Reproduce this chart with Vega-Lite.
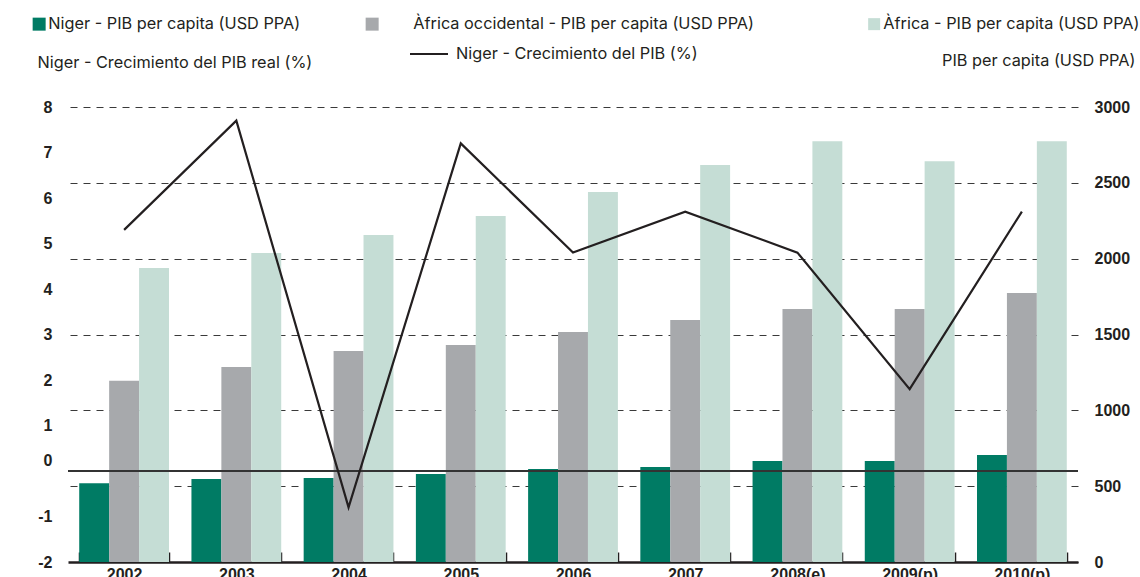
{
  "$schema": "https://vega.github.io/schema/vega-lite/v6.json",
  "width": 1010,
  "height": 455,
  "autosize": {"type": "none"},
  "padding": {"left": 68, "top": 107, "right": 62, "bottom": 15},
  "background": "white",
  "config": {
    "view": {"stroke": null},
    "font": "Liberation Sans",
    "axis": {"labelColor": "#231f20", "titleColor": "#231f20"},
    "legend": {"labelColor": "#231f20", "labelFont": "Inter", "labelFontSize": 16.3, "labelLimit": 500, "title": null}
  },
  "datasets": {
    "pib": [
      {"year": "2002", "series": "Niger - PIB per capita (USD PPA)", "value": 520},
      {"year": "2002", "series": "Àfrica occidental - PIB per capita (USD PPA)", "value": 1195},
      {"year": "2002", "series": "Àfrica - PIB per capita (USD PPA)", "value": 1938},
      {"year": "2003", "series": "Niger - PIB per capita (USD PPA)", "value": 547},
      {"year": "2003", "series": "Àfrica occidental - PIB per capita (USD PPA)", "value": 1285},
      {"year": "2003", "series": "Àfrica - PIB per capita (USD PPA)", "value": 2037},
      {"year": "2004", "series": "Niger - PIB per capita (USD PPA)", "value": 554},
      {"year": "2004", "series": "Àfrica occidental - PIB per capita (USD PPA)", "value": 1391},
      {"year": "2004", "series": "Àfrica - PIB per capita (USD PPA)", "value": 2156},
      {"year": "2005", "series": "Niger - PIB per capita (USD PPA)", "value": 580},
      {"year": "2005", "series": "Àfrica occidental - PIB per capita (USD PPA)", "value": 1431},
      {"year": "2005", "series": "Àfrica - PIB per capita (USD PPA)", "value": 2281},
      {"year": "2006", "series": "Niger - PIB per capita (USD PPA)", "value": 613},
      {"year": "2006", "series": "Àfrica occidental - PIB per capita (USD PPA)", "value": 1516},
      {"year": "2006", "series": "Àfrica - PIB per capita (USD PPA)", "value": 2439},
      {"year": "2007", "series": "Niger - PIB per capita (USD PPA)", "value": 626},
      {"year": "2007", "series": "Àfrica occidental - PIB per capita (USD PPA)", "value": 1595},
      {"year": "2007", "series": "Àfrica - PIB per capita (USD PPA)", "value": 2617},
      {"year": "2008(e)", "series": "Niger - PIB per capita (USD PPA)", "value": 666},
      {"year": "2008(e)", "series": "Àfrica occidental - PIB per capita (USD PPA)", "value": 1668},
      {"year": "2008(e)", "series": "Àfrica - PIB per capita (USD PPA)", "value": 2775},
      {"year": "2009(p)", "series": "Niger - PIB per capita (USD PPA)", "value": 666},
      {"year": "2009(p)", "series": "Àfrica occidental - PIB per capita (USD PPA)", "value": 1668},
      {"year": "2009(p)", "series": "Àfrica - PIB per capita (USD PPA)", "value": 2643},
      {"year": "2010(p)", "series": "Niger - PIB per capita (USD PPA)", "value": 705},
      {"year": "2010(p)", "series": "Àfrica occidental - PIB per capita (USD PPA)", "value": 1773},
      {"year": "2010(p)", "series": "Àfrica - PIB per capita (USD PPA)", "value": 2775}
    ],
    "growth": [
      {"year": "2002", "series": "Niger - Crecimiento del PIB (%)", "growth": 5.3},
      {"year": "2003", "series": "Niger - Crecimiento del PIB (%)", "growth": 7.7},
      {"year": "2004", "series": "Niger - Crecimiento del PIB (%)", "growth": -0.8},
      {"year": "2005", "series": "Niger - Crecimiento del PIB (%)", "growth": 7.2},
      {"year": "2006", "series": "Niger - Crecimiento del PIB (%)", "growth": 4.8},
      {"year": "2007", "series": "Niger - Crecimiento del PIB (%)", "growth": 5.7},
      {"year": "2008(e)", "series": "Niger - Crecimiento del PIB (%)", "growth": 4.8},
      {"year": "2009(p)", "series": "Niger - Crecimiento del PIB (%)", "growth": 1.8},
      {"year": "2010(p)", "series": "Niger - Crecimiento del PIB (%)", "growth": 5.7}
    ]
  },
  "layer": [
    {
      "data": {"name": "pib"},
      "encoding": {
        "x": {
          "field": "year",
          "type": "nominal",
          "sort": ["2002", "2003", "2004", "2005", "2006", "2007", "2008(e)", "2009(p)", "2010(p)"],
          "scale": {"paddingInner": 0.2, "paddingOuter": 0.1},
          "axis": {
            "title": null,
            "labelAngle": 0,
            "labelFontWeight": "bold",
            "labelFontSize": 16,
            "labelPadding": 14,
            "domain": true,
            "domainColor": "#231f20",
            "domainWidth": 2.5,
            "ticks": true,
            "tickBand": "extent",
            "tickSize": -10,
            "tickWidth": 1.5,
            "tickColor": "#231f20",
            "grid": false
          }
        },
        "xOffset": {
          "field": "series",
          "sort": ["Niger - PIB per capita (USD PPA)", "Àfrica occidental - PIB per capita (USD PPA)", "Àfrica - PIB per capita (USD PPA)"],
          "scale": {
            "domain": ["Niger - PIB per capita (USD PPA)", "Àfrica occidental - PIB per capita (USD PPA)", "Àfrica - PIB per capita (USD PPA)"],
            "paddingInner": 0, "paddingOuter": 0
          }
        },
        "y": {
          "field": "value",
          "type": "quantitative",
          "scale": {"domain": [0, 3000], "nice": false},
          "axis": {
            "orient": "right",
            "values": [0, 500, 1000, 1500, 2000, 2500, 3000],
            "format": "d",
            "domain": false,
            "ticks": false,
            "grid": true,
            "gridDash": [7, 6],
            "gridColor": "#3a3a3a",
            "gridWidth": 1,
            "labelFontWeight": "bold",
            "labelFontSize": 16,
            "labelPadding": 16,
            "title": "PIB per capita  (USD PPA)",
            "titleFont": "Inter",
            "titleAngle": 0,
            "titleAlign": "right",
            "titleBaseline": "middle",
            "titleFontWeight": "normal",
            "titleFontSize": 16.3,
            "titleX": 57,
            "titleY": -47
          }
        }
      },
      "layer": [
        {
          "transform": [{"filter": "datum.series === 'Niger - PIB per capita (USD PPA)'"}],
          "mark": {"type": "bar"},
          "encoding": {
            "fill": {
              "field": "series",
              "type": "nominal",
              "scale": {
                "domain": ["Niger - PIB per capita (USD PPA)", "Àfrica occidental - PIB per capita (USD PPA)", "Àfrica - PIB per capita (USD PPA)"],
                "range": ["#007b64", "#a7a9ac", "#c5ddd5"]
              },
              "legend": {
                "orient": "none",
                "values": ["Niger - PIB per capita (USD PPA)"],
                "legendX": -37,
                "legendY": -91,
                "symbolType": "square",
                "symbolSize": 169,
                "symbolStrokeWidth": 0,
                "labelOffset": 1
              }
            }
          }
        },
        {
          "transform": [{"filter": "datum.series === 'Àfrica occidental - PIB per capita (USD PPA)'"}],
          "mark": {"type": "bar"},
          "encoding": {
            "fill": {
              "field": "series",
              "type": "nominal",
              "legend": {
                "orient": "none",
                "values": ["Àfrica occidental - PIB per capita (USD PPA)"],
                "legendX": 296,
                "legendY": -91,
                "symbolType": "square",
                "symbolSize": 169,
                "symbolStrokeWidth": 0,
                "labelOffset": 33
              }
            }
          }
        },
        {
          "transform": [{"filter": "datum.series === 'Àfrica - PIB per capita (USD PPA)'"}],
          "mark": {"type": "bar"},
          "encoding": {
            "fill": {
              "field": "series",
              "type": "nominal",
              "legend": {
                "orient": "none",
                "values": ["Àfrica - PIB per capita (USD PPA)"],
                "legendX": 798,
                "legendY": -91,
                "symbolType": "square",
                "symbolSize": 144,
                "symbolStrokeWidth": 0,
                "labelOffset": 1
              }
            }
          }
        }
      ],
      "resolve": {"legend": {"fill": "independent"}}
    },
    {
      "data": {"name": "growth"},
      "layer": [
        {
          "mark": {"type": "rule", "color": "#333333", "strokeWidth": 2},
          "encoding": {"y": {"datum": 0, "type": "quantitative"}}
        },
        {
          "mark": {"type": "line", "strokeWidth": 2.2},
          "encoding": {
            "x": {
              "field": "year",
              "type": "nominal",
              "sort": ["2002", "2003", "2004", "2005", "2006", "2007", "2008(e)", "2009(p)", "2010(p)"]
            },
            "y": {
              "field": "growth",
              "type": "quantitative",
              "scale": {"domain": [-2, 8], "nice": false, "zero": false},
              "axis": {
                "orient": "left",
                "values": [-2, -1, 0, 1, 2, 3, 4, 5, 6, 7, 8],
                "labelExpr": "datum.value < 0 ? '-' + abs(datum.value) : '' + datum.value",
                "domain": false,
                "ticks": false,
                "grid": false,
                "labelFontWeight": "bold",
                "labelFontSize": 16,
                "labelPadding": 16,
                "labelOffset": {"condition": {"test": "datum.value === 0", "value": -11}, "value": 0},
                "title": "Niger - Crecimiento del PIB real (%)",
                "titleFont": "Inter",
                "titleAngle": 0,
                "titleAlign": "left",
                "titleBaseline": "middle",
                "titleFontWeight": "normal",
                "titleFontSize": 16.3,
                "titleX": -31,
                "titleY": -45
              }
            },
            "stroke": {
              "field": "series",
              "type": "nominal",
              "scale": {"range": ["#231f20"]},
              "legend": {
                "orient": "none",
                "legendX": 341,
                "legendY": -73,
                "symbolType": "stroke",
                "symbolSize": 1444,
                "symbolStrokeWidth": 2,
                "labelOffset": 7
              }
            }
          }
        }
      ]
    }
  ],
  "resolve": {"scale": {"y": "independent"}}
}
